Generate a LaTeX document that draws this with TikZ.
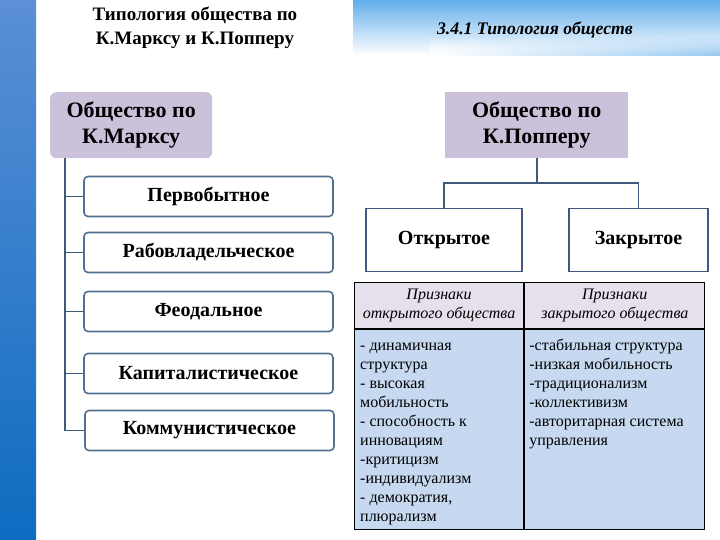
\documentclass[tikz,border=0pt]{standalone}
\usepackage{fontspec}
\setmainfont{Liberation Serif}
\usetikzlibrary{positioning,calc,fadings}

\definecolor{stripTop}{HTML}{5B8FD6}
\definecolor{stripMid}{HTML}{A9C9EA}
\definecolor{stripBot}{HTML}{0E6CC0}
\definecolor{bannerBlue}{HTML}{62AEEB}
\definecolor{boxLilac}{HTML}{CCC1DA}
\definecolor{stageEdge}{HTML}{52708F}
\definecolor{treeLine}{HTML}{3F5A7C}
\definecolor{headFill}{HTML}{E6DFEC}
\definecolor{bodyFill}{HTML}{C6D9F1}

\tikzset{
  society/.style={fill=boxLilac, minimum height=66pt, align=center, inner sep=0pt,
    font=\bfseries\fontsize{22}{26}\selectfont},
  stagebox/.style={draw=stageEdge, line width=1.6pt, rounded corners=4pt, fill=white,
    minimum width=249pt, minimum height=40pt, inner sep=0pt,
    font=\bfseries\fontsize{20}{22}\selectfont},
  kindbox/.style={draw=treeLine, line width=1.6pt, fill=white, minimum height=63pt,
    inner sep=0pt, font=\bfseries\fontsize{20}{22}\selectfont},
  tree/.style={draw=treeLine, line width=1.8pt},
  headcell/.style={draw=black, line width=1.2pt, fill=headFill, minimum height=46pt,
    inner sep=0pt, align=center, font=\itshape\fontsize{16}{19.5}\selectfont},
  bodycell/.style={draw=black, line width=1.2pt, fill=bodyFill, minimum height=200pt,
    inner sep=0pt},
  celltext/.style={inner sep=0pt, anchor=base west, font=\fontsize{16}{19}\selectfont},
  title/.style={font=\bfseries\fontsize{19}{24}\selectfont, align=center},
}

\begin{document}
\begin{tikzpicture}[x=1pt, y=-1pt]
    \useasboundingbox (0,0) rectangle (720,540);

    % Background: side strip and banner
    \shade[top color=stripTop, middle color=stripMid, bottom color=stripBot]
        (0,0) rectangle (36,540);
    \shade[top color=bannerBlue, bottom color=white] (353,0) rectangle (720,55);
    \shade[left color=white, right color=bannerBlue!70, path fading=north]
        (430,36) rectangle (720,56);

    % Headings
    \node[title] (mainhead) at (195,28) {Типология общества по\\К.Марксу и К.Попперу};
    \node[font=\bfseries\itshape\fontsize{17.7}{20}\selectfont] (slidehead) at (535,30)
        {3.4.1 Типология обществ};

    % Marx: stages
    \node[society, rounded corners=6pt, minimum width=162pt, anchor=north west] (marx)
        at (50,92) {Общество по\\К.Марксу};
    \node[stagebox] (s1) at (208.5,196.5) {Первобытное};
    \node[stagebox] (s2) at (208.5,252.5) {Рабовладельческое};
    \node[stagebox] (s3) at (208.5,311.5) {Феодальное};
    \node[stagebox] (s4) at (208.5,373.5) {Капиталистическое};
    \node[stagebox] (s5) at (209.5,430.5) {Коммунистическое};
    \coordinate (trunk) at ([xshift=15pt]marx.south west);
    \draw[tree] (trunk) |- (s5.west);
    \foreach \s in {s1,s2,s3,s4} \draw[tree] (trunk |- \s.west) -- (\s.west);

    % Popper: open and closed
    \node[society, minimum width=183pt, anchor=north west] (popper) at (445,92)
        {Общество по\\К.Попперу};
    \node[kindbox, minimum width=156pt] (open) at (444,240) {Открытое};
    \node[kindbox, minimum width=139pt] (closed) at (638.5,240) {Закрытое};
    \coordinate (fork) at ($(popper.south)+(0,25)$);
    \draw[tree] (popper.south) -- (fork) -| (open.north);
    \draw[tree] (fork) -| (closed.north);

    % Table of features
    \node[headcell, minimum width=169pt, anchor=north west] (hopen) at (354,282)
        {Признаки\\открытого общества};
    \node[headcell, minimum width=180pt, anchor=north west] (hclosed) at (hopen.north east)
        {Признаки\\закрытого общества};
    \node[bodycell, minimum width=169pt, anchor=north west] (bopen) at (hopen.south west) {};
    \node[bodycell, minimum width=180pt, anchor=north west] (bclosed) at (hclosed.south west) {};
    \foreach \txt [count=\i from 0] in {- динамичная, структура, - высокая, мобильность,
        - способность к, инновациям, -критицизм, -индивидуализм, {- демократия,}, плюрализм}
        \node[celltext] (po\i) at ($(bopen.north west)+(6,21+19*\i)$) {\txt};
    \foreach \txt [count=\i from 0] in {-стабильная структура, -низкая мобильность,
        -традиционализм, -коллективизм, -авторитарная система, управления}
        \node[celltext] (pc\i) at ($(bclosed.north west)+(5,21+19*\i)$) {\txt};
\end{tikzpicture}
\end{document}
